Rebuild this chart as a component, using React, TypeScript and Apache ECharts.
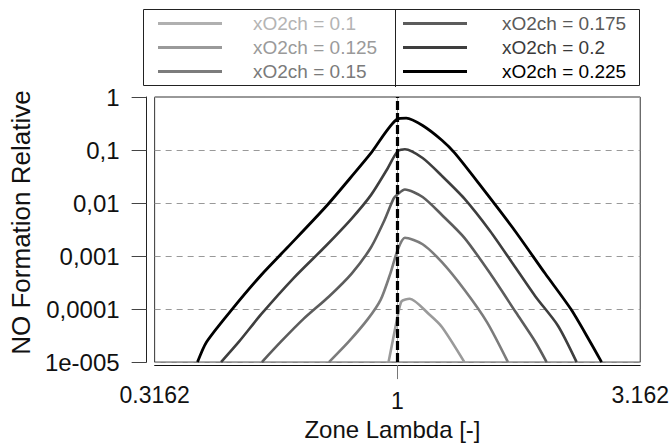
import React, { useEffect, useRef } from "react";
import * as echarts from "echarts";

const FONT = "'Liberation Sans', Arial, Helvetica, sans-serif";

// x: Zone Lambda [-], y: NO Formation Relative
const seriesNames = ["xO2ch = 0.1", "xO2ch = 0.125", "xO2ch = 0.15", "xO2ch = 0.175", "xO2ch = 0.2", "xO2ch = 0.225"];
const seriesColors = ["#b0b0b0", "#9a9a9a", "#7c7c7c", "#5c5c5c", "#3e3e3e", "#000000"];
const legendTextColors = ["#b4b4b4", "#9a9a9a", "#7a7a7a", "#5a5a5a", "#3a3a3a", "#000000"];

const xO2_0100: number[][] = [];
const xO2_0125 = [[0.959, 1e-5], [0.985, 3.5e-5], [1.0, 6.95e-5], [1.02, 1.4e-4], [1.06, 1.57e-4], [1.162, 8.0e-5], [1.235, 4.6e-5], [1.374, 1e-5]];
const xO2_0150 = [[0.723, 1e-5], [0.793, 2.4e-5], [0.869, 6.46e-5], [0.924, 1.51e-4], [0.967, 4.68e-4], [1.0, 1.26e-3], [1.036, 2.21e-3], [1.127, 1.67e-3], [1.235, 7.66e-4], [1.374, 2.31e-4], [1.53, 5.62e-5], [1.689, 1e-5]];
const xO2_0175 = [[0.526, 1e-5], [0.575, 2.4e-5], [0.64, 6.46e-5], [0.723, 1.73e-4], [0.805, 4.68e-4], [0.882, 1.45e-3], [0.938, 4.49e-3], [0.982, 0.0121], [1.0, 0.0145], [1.036, 0.018], [1.127, 0.013], [1.235, 5.96e-3], [1.374, 2.21e-3], [1.553, 4.68e-4], [1.755, 8.59e-5], [1.924, 2.4e-5], [2.029, 1e-5]];
const xO2_0200 = [[0.4334, 1e-5], [0.4714, 2.4e-5], [0.5244, 8.0e-5], [0.6114, 3.84e-4], [0.712, 1.55e-3], [0.805, 5.1e-3], [0.882, 0.0141], [0.952, 0.043], [1.0, 0.0938], [1.036, 0.1035], [1.127, 0.0706], [1.235, 0.0325], [1.374, 0.0121], [1.553, 2.94e-3], [1.729, 7.15e-4], [1.924, 1.73e-4], [2.141, 4.86e-5], [2.339, 1e-5]];
const xO2_0225 = [[0.3876, 1e-5], [0.4046, 2.4e-5], [0.457, 1.0e-4], [0.5244, 4.4e-4], [0.5928, 1.43e-3], [0.712, 8.5e-3], [0.817, 0.0374], [0.882, 0.0873], [1.0, 0.385], [1.043, 0.4], [1.127, 0.29], [1.235, 0.153], [1.313, 0.0873], [1.483, 0.0213], [1.729, 3.38e-3], [2.015, 4.68e-4], [2.276, 1.0e-4], [2.495, 2.4e-5], [2.633, 1e-5]];
const seriesData = [xO2_0100, xO2_0125, xO2_0150, xO2_0175, xO2_0200, xO2_0225];

const refLambda = 1;
const xTickLabels = ["0.3162", "1", "3.162"]; // exponents -1, 0, 1 (base sqrt(10))
const yTickLabels = ["1e-005", "0,0001", "0,001", "0,01", "0,1", "1"]; // exponents -5..0
const xMin = 0.3163;
const xMax = 3.1622776601683795;
const yMin = 1.0001e-5;
const yMax = 1;

export default function App() {
  const ref = useRef<HTMLDivElement>(null);
  useEffect(() => {
    document.body.style.margin = "0";
    const chart = echarts.init(ref.current!, null, { renderer: "svg" });
    const series: any[] = seriesNames.map((name, i) => ({
      name,
      type: "line",
      data: seriesData[i],
      symbol: "none",
      smooth: 0.25,
      lineStyle: { color: seriesColors[i], width: i === 5 ? 2.8 : 2.6 },
      itemStyle: { color: seriesColors[i] },
      z: 2 + i,
    }));
    series[5].markLine = {
      silent: true,
      symbol: ["none", "none"],
      label: { show: false },
      lineStyle: { color: "#000", width: 3.2, type: [9, 3] },
      data: [{ xAxis: refLambda }],
      z: 10,
    };
    const legendCommon = {
      orient: "vertical",
      top: 9,
      itemWidth: 64,
      itemHeight: 3,
      itemGap: 5,
      icon: "rect",
      selectedMode: false,
      textStyle: { fontSize: 19, fontFamily: FONT },
    };
    chart.setOption({
      animation: false,
      textStyle: { fontFamily: FONT },
      grid: { left: 143, top: 97, width: 502, height: 272, show: true, borderColor: "#333", borderWidth: 1 },
      legend: [
        {
          ...legendCommon,
          left: 143,
          padding: [5, 0, 0, 15],
          textStyle: { ...legendCommon.textStyle, padding: [0, 0, 0, 26] },
          data: [0, 1, 2].map((i) => ({ name: seriesNames[i], textStyle: { color: legendTextColors[i] } })),
        },
        {
          ...legendCommon,
          left: 395,
          padding: [5, 0, 0, 8],
          textStyle: { ...legendCommon.textStyle, padding: [0, 0, 0, 30] },
          data: [3, 4, 5].map((i) => ({ name: seriesNames[i], textStyle: { color: legendTextColors[i] } })),
        },
      ],
      graphic: [
        { type: "rect", shape: { x: 143.5, y: 9.5, width: 496, height: 76 }, style: { fill: "none", stroke: "#222", lineWidth: 1 }, silent: true },
        { type: "line", shape: { x1: 395.5, y1: 9.5, x2: 395.5, y2: 87 }, style: { stroke: "#222", lineWidth: 1 }, silent: true },
      ],
      xAxis: {
        type: "log",
        logBase: Math.sqrt(10),
        min: xMin,
        max: xMax,
        offset: 3,
        axisLine: { show: true, lineStyle: { color: "#111", width: 1 } },
        axisTick: { show: true, customValues: [refLambda], length: 14, lineStyle: { color: "#777" } },
        axisLabel: {
          margin: 18,
          fontSize: 23,
          color: "#111",
          fontFamily: FONT,
          formatter: (v: number) => {
            const e = Math.round(Math.log(v) / Math.log(Math.sqrt(10)));
            const t = xTickLabels[e + 1];
            if (e === 0) return "{one|" + t + "}";
            return t;
          },
          rich: {
            one: { fontSize: 23, color: "#111", fontFamily: FONT, padding: [6, 0, 0, 0] },
          },
        },
        splitLine: { show: true, lineStyle: { color: "#aaa", width: 1 } },
        name: "Zone Lambda [-]",
        nameLocation: "middle",
        nameGap: 49,
        nameTextStyle: { fontSize: 24, color: "#111", fontFamily: FONT, padding: [0, 10, 0, 0] },
      },
      yAxis: {
        type: "log",
        logBase: 10,
        min: yMin,
        max: yMax,
        offset: 8,
        axisLine: { show: true, lineStyle: { color: "#222", width: 1 } },
        axisTick: { show: true, length: 15, lineStyle: { color: "#444" } },
        axisLabel: {
          margin: 27,
          fontSize: 24,
          color: "#111",
          fontFamily: FONT,
          formatter: (v: number) => yTickLabels[Math.round(Math.log10(v)) + 5],
        },
        splitLine: { show: true, lineStyle: { color: "#999", width: 1, type: [6, 5] } },
        name: "NO Formation Relative",
        nameLocation: "middle",
        nameGap: 101,
        nameTextStyle: { fontSize: 26, color: "#111", fontFamily: FONT, padding: [0, 0, 0, 14] },
      },
      series,
    });
    return () => chart.dispose();
  }, []);
  return <div ref={ref} style={{ width: 672, height: 446 }} />;
}
